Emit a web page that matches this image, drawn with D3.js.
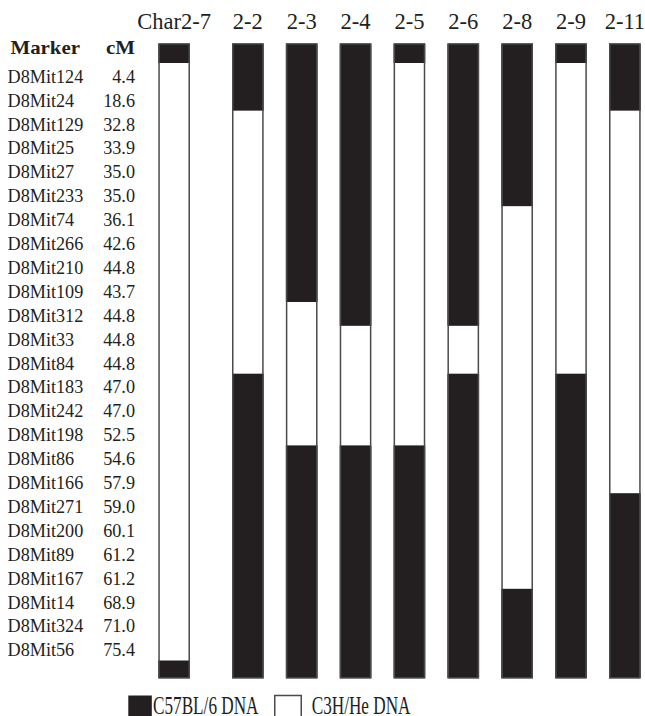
<!DOCTYPE html>
<html>
<head>
<meta charset="utf-8">
<script src="https://cdn.jsdelivr.net/npm/d3@7"></script>
<style>
  html, body { margin: 0; padding: 0; background: #fff; }
  svg { display: block; }
  text { font-family: "Liberation Serif", "Times New Roman", serif; fill: #231f20; }
</style>
</head>
<body>
<svg id="chart" width="645" height="716"></svg>
<script>
// ---- data ----
const markers = ["D8Mit124","D8Mit24","D8Mit129","D8Mit25","D8Mit27","D8Mit233","D8Mit74","D8Mit266",
  "D8Mit210","D8Mit109","D8Mit312","D8Mit33","D8Mit84","D8Mit183","D8Mit242","D8Mit198","D8Mit86",
  "D8Mit166","D8Mit271","D8Mit200","D8Mit89","D8Mit167","D8Mit14","D8Mit324","D8Mit56"];
const cM = ["4.4","18.6","32.8","33.9","35.0","35.0","36.1","42.6","44.8","43.7","44.8","44.8","44.8",
  "47.0","47.0","52.5","54.6","57.9","59.0","60.1","61.2","61.2","68.9","71.0","75.4"];
const strains = ["Char2-7","2-2","2-3","2-4","2-5","2-6","2-8","2-9","2-11"];
// genotype per marker: B = C57BL/6, H = C3H/He
const genotypes = [
  "HHHHHHHHHHHHHHHHHHHHHHHHH", // Char2-7
  "BBHHHHHHHHHHHBBBBBBBBBBBB", // 2-2
  "BBBBBBBBBBHHHHHHBBBBBBBBB", // 2-3
  "BBBBBBBBBBBHHHHHBBBBBBBBB", // 2-4
  "HHHHHHHHHHHHHHHHBBBBBBBBB", // 2-5
  "BBBBBBBBBBBHHBBBBBBBBBBBB", // 2-6
  "BBBBBBHHHHHHHHHHHHHHHHBBB", // 2-8
  "HHHHHHHHHHHHHBBBBBBBBBBBB", // 2-9
  "BBHHHHHHHHHHHHHHHHBBBBBBB"  // 2-11
];
const capTop    = ["B","B","B","B","B","B","B","B","B"];
const capBottom = ["B","B","B","B","B","B","B","B","B"];
const legendItems = [{key:"B", label:"C57BL/6 DNA"}, {key:"H", label:"C3H/He DNA"}];

// ---- layout ----
const BLACK = "#231f20";
const svg = d3.select("#chart");
const y = d3.scaleLinear().domain([0, markers.length]).range([63, 660.5]);
const capTopExt = -0.8, capBotExt = markers.length + 0.73;
const xMain = d3.scaleBand().domain(strains.slice(1)).range([232, 640.7]).paddingInner(0.412).paddingOuter(0);
const bw = xMain.bandwidth();
const xPos = s => s === strains[0] ? 158.3 : xMain(s);

// headers
svg.append("text").attr("x", 10.5).attr("y", 54).attr("font-size", 19).attr("font-weight", "bold")
  .attr("textLength", 69.5).attr("lengthAdjust", "spacingAndGlyphs").text("Marker");
svg.append("text").attr("x", 106).attr("y", 54).attr("font-size", 19).attr("font-weight", "bold")
  .attr("textLength", 29).attr("lengthAdjust", "spacingAndGlyphs").text("cM");

// marker labels
svg.selectAll("text.marker").data(markers).join("text").attr("class", "marker")
  .attr("x", 7.5).attr("y", (d, i) => y(i + 0.5) + 7.8).attr("font-size", 18.2).text(d => d);
svg.selectAll("text.cm").data(cM).join("text").attr("class", "cm")
  .attr("x", 135).attr("y", (d, i) => y(i + 0.5) + 7.8).attr("font-size", 18.2)
  .attr("text-anchor", "end").text(d => d);

// strain labels
svg.selectAll("text.strain").data(strains).join("text").attr("class", "strain")
  .attr("x", s => xPos(s) + bw / 2).attr("y", 28.5).attr("font-size", 22.5)
  .attr("text-anchor", "middle").text(s => s);

// bars
strains.forEach((s, si) => {
  const slots = [capTop[si], ...genotypes[si].split(""), capBottom[si]];
  const runs = [];
  slots.forEach((g, k) => {
    const a = k === 0 ? capTopExt : k - 1;
    const b = k === 0 ? 0 : (k === slots.length - 1 ? capBotExt : k);
    const start = k === slots.length - 1 ? markers.length : a;
    if (runs.length && runs[runs.length - 1].g === g) runs[runs.length - 1].b = b;
    else runs.push({g, a: start, b});
  });
  const gEl = svg.append("g");
  const x0 = xPos(s);
  gEl.selectAll("rect.run").data(runs).join("rect").attr("class", "run")
    .attr("x", x0).attr("width", bw)
    .attr("y", r => y(r.a)).attr("height", r => y(r.b) - y(r.a))
    .attr("fill", r => r.g === "B" ? BLACK : "#fff");
  gEl.append("rect").attr("x", x0 + 0.75).attr("width", bw - 1.5)
    .attr("y", y(capTopExt)).attr("height", y(capBotExt) - y(capTopExt))
    .attr("fill", "none").attr("stroke", "#4a4a4a").attr("stroke-width", 1.5);
});

// legend
const lx = [128.3, 274];
legendItems.forEach((it, i) => {
  svg.append("rect").attr("x", lx[i] + (it.key === "H" ? 0.75 : 0)).attr("y", 695.5)
    .attr("width", it.key === "H" ? 26.5 : 23.5).attr("height", 24)
    .attr("fill", it.key === "B" ? BLACK : "#fff")
    .attr("stroke", it.key === "B" ? "none" : "#4a4a4a").attr("stroke-width", 1.5);
  const tx = it.key === "B" ? 153 : 311.7;
  svg.append("text").attr("transform", `translate(${tx},714) scale(1,1.5)`)
    .attr("font-size", 17.2).text(it.label);
});
</script>
</body>
</html>
